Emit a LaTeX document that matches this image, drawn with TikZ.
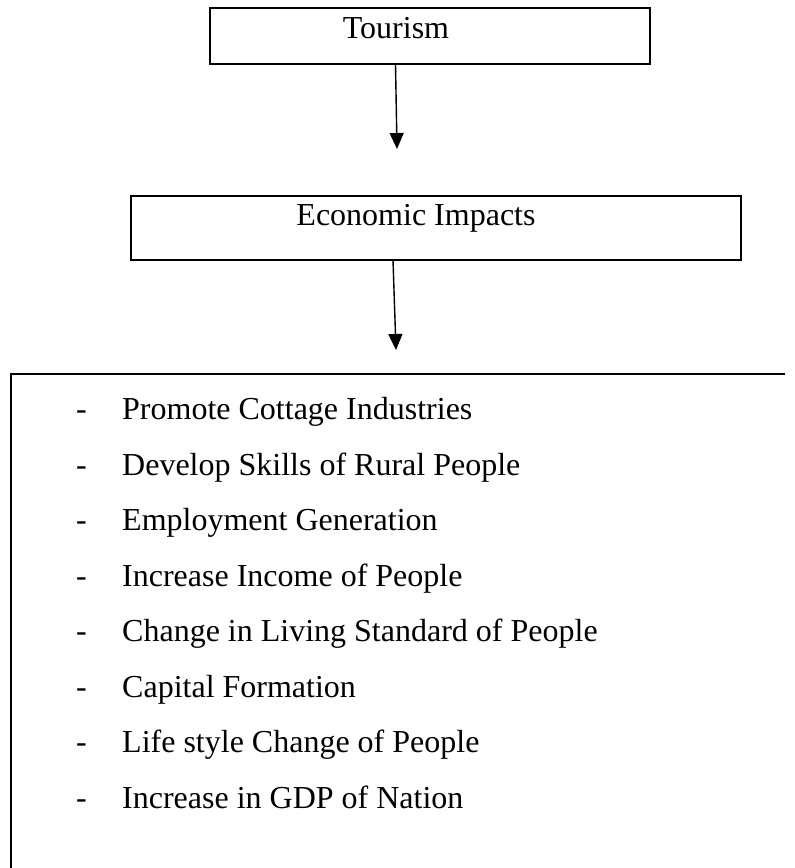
\documentclass[tikz,border=0pt]{standalone}
\usepackage{fontspec}
\setmainfont{Liberation Serif}
\usetikzlibrary{arrows.meta,positioning}

\tikzset{
  impbox/.style={draw,line width=1.4pt,inner sep=0pt},
  impline/.style={line width=1.4pt},
  conn/.style={line width=1.4pt,-{Triangle[width=14pt,length=16pt]}},
  txt/.style={font=\fontsize{32}{38}\selectfont,inner sep=0pt}
}

\begin{document}
\begin{tikzpicture}[x=1pt,y=-1pt]
    \useasboundingbox (0,0) rectangle (795,868);

    % top box
    \node[impbox,minimum width=440pt,minimum height=56pt] (tourism) at (430,36) {};
    \node[txt,anchor=base] (tourismtxt) at (396,38) {Tourism};

    % middle box
    \node[impbox,minimum width=610pt,minimum height=64pt] (econ) at (436,228) {};
    \node[txt,anchor=base] (econtxt) at (416,225) {Economic Impacts};

    % arrows between the boxes
    \coordinate (a1s) at (395.5,64);
    \coordinate (a1e) at (397,149);
    \coordinate (a2s) at (393,260);
    \coordinate (a2e) at (396,350);
    \draw[conn] (a1s) -- (a1e);
    \draw[conn] (a2s) -- (a2e);

    % open list box
    \coordinate (lbtl) at (11,374);
    \coordinate (lbtr) at (785,374);
    \coordinate (lbbl) at (11,868);
    \draw[impline] (lbtr) -- (lbtl) -- (lbbl);

    \foreach \t [count=\i] in {Promote Cottage Industries,
        Develop Skills of Rural People,
        Employment Generation,
        Increase Income of People,
        Change in Living Standard of People,
        Capital Formation,
        Life style Change of People,
        Increase in GDP of Nation}
    {
      \node[txt,anchor=base west] (dash\i) at (76,364+55.5*\i) {-};
      \node[txt,anchor=base west] (item\i) at (122,364+55.5*\i) {\t};
    }
\end{tikzpicture}
\end{document}
